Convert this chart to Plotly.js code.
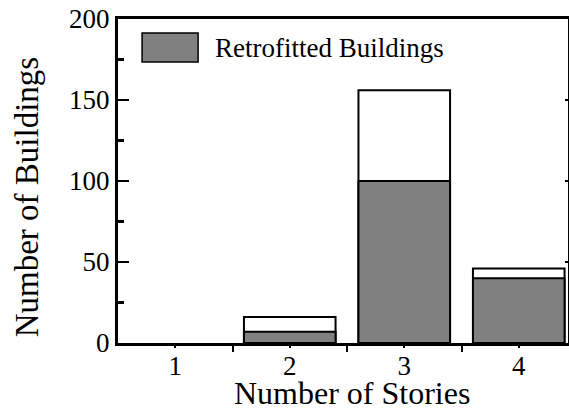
<!DOCTYPE html>
<html>
<head>
<meta charset="utf-8">
<script src="https://cdn.plot.ly/plotly-3.0.1.min.js"></script>
<style>html,body{margin:0;padding:0;background:#fff;}#chart{width:569px;height:412px;}</style>
</head>
<body>
<div id="chart"></div>
<script>
const stories = [1, 2, 3, 4];
const totalBuildings = [0, 16, 156, 46];
const retrofittedBuildings = [0, 7, 100, 40];
const tickLabels = ['1', '2', '3', '4'];
const legendLabel = 'Retrofitted Buildings';
const xTitle = 'Number of Stories';
const yTitle = 'Number of Buildings';

const FONT = '"Liberation Serif", "Times New Roman", Times, serif';

const outlineWidths = totalBuildings.map(v => (v > 0 ? 2 : 0));
const outlineWidthsR = retrofittedBuildings.map(v => (v > 0 ? 2 : 0));

const traces = [
  {
    type: 'bar', x: stories, y: totalBuildings, width: 0.8,
    marker: {color: '#ffffff', line: {color: '#000000', width: outlineWidths}},
    showlegend: false, hoverinfo: 'skip'
  },
  {
    type: 'bar', x: stories, y: retrofittedBuildings, width: 0.8, name: legendLabel,
    marker: {color: '#808080', line: {color: '#000000', width: outlineWidthsR}},
    showlegend: false
  },
  {type: 'scatter', x: [], y: [], yaxis: 'y2', showlegend: false, hoverinfo: 'skip'}
];

const layout = {
  width: 569, height: 412,
  margin: {l: 118, r: 1, t: 19, b: 69},
  paper_bgcolor: '#ffffff', plot_bgcolor: '#ffffff',
  barmode: 'overlay',
  showlegend: false,
  font: {family: FONT, color: '#000000', size: 26},
  xaxis: {
    range: [0.5, 4.43], tickmode: 'array', tickvals: stories, ticktext: tickLabels,
    ticks: 'outside', ticklen: 2, tickwidth: 2, tickcolor: '#000',
    ticklabelstandoff: -5,
    minor: {tickmode: 'array', tickvals: [1.5, 2.5, 3.5], ticks: 'outside', ticklen: 6, tickwidth: 2, tickcolor: '#000'},
    showline: true, linecolor: '#000', linewidth: 3, mirror: true,
    showgrid: false, zeroline: false,
    tickfont: {family: FONT, size: 27}
  },
  yaxis: {
    range: [0, 200], tickmode: 'linear', tick0: 0, dtick: 50,
    ticks: 'inside', ticklen: 11, tickwidth: 2.5, tickcolor: '#000',
    minor: {dtick: 25, ticks: 'inside', ticklen: 6, tickwidth: 2.5, tickcolor: '#000'},
    showline: true, linecolor: '#000', linewidth: 3, mirror: true,
    showgrid: false, zeroline: false,
    tickfont: {family: FONT, size: 27}
  },
  yaxis2: {
    range: [0, 200], overlaying: 'y', side: 'right', tickmode: 'linear', tick0: 0, dtick: 50,
    ticks: 'inside', ticklen: 3, tickwidth: 2, tickcolor: '#000',
    showticklabels: false, showgrid: false, zeroline: false, showline: false
  },
  shapes: [
    {type: 'rect', xref: 'paper', yref: 'paper', x0: 0.0535, x1: 0.178, y0: 0.867, y1: 0.957,
     fillcolor: '#808080', line: {color: '#000', width: 1.5}}
  ],
  annotations: [
    {xref: 'paper', yref: 'paper', x: 0.2116, y: 0.912, xanchor: 'left', yanchor: 'middle',
     text: legendLabel, showarrow: false, font: {family: FONT, size: 27}},
    {xref: 'paper', yref: 'paper', x: -0.202, y: 0.45, xanchor: 'center', yanchor: 'middle',
     text: yTitle, textangle: -90, showarrow: false, font: {family: FONT, size: 33}},
    {xref: 'paper', yref: 'paper', x: 0.519, y: -0.155, xanchor: 'center', yanchor: 'middle',
     borderpad: 0, text: xTitle, showarrow: false, font: {family: FONT, size: 32}}
  ]
};

Plotly.newPlot('chart', traces, layout, {displayModeBar: false, staticPlot: true});
</script>
</body>
</html>
